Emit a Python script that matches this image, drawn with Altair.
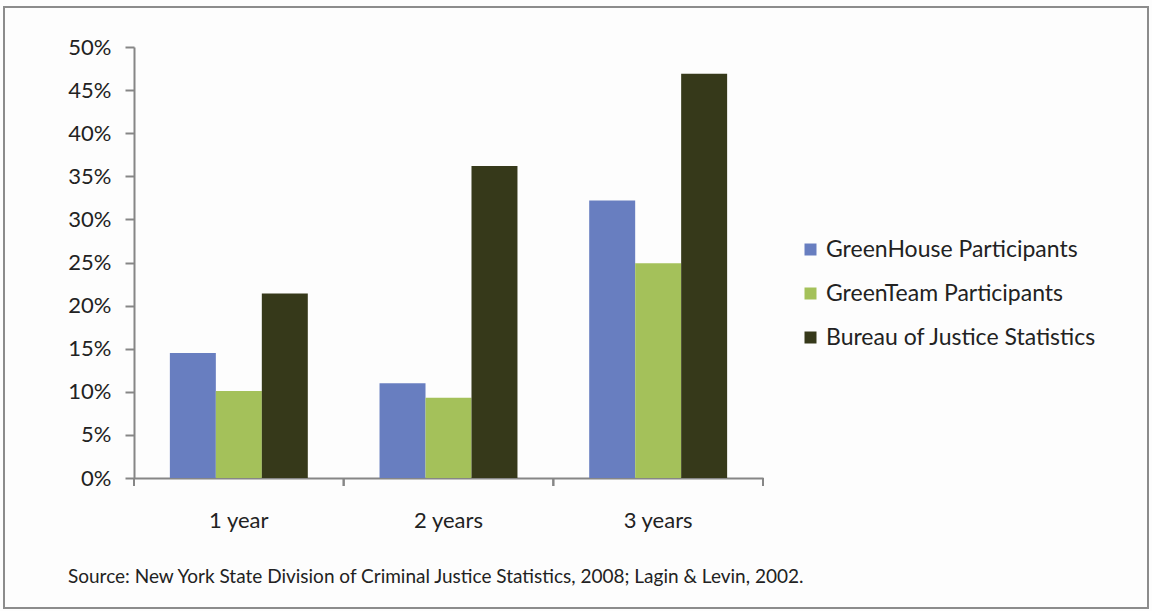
import altair as alt
import pandas as pd

categories = ["1 year", "2 years", "3 years"]
series = ["GreenHouse Participants", "GreenTeam Participants", "Bureau of Justice Statistics"]
greenhouse = [0.145, 0.110, 0.322]
greenteam = [0.101, 0.093, 0.249]
bureau = [0.214, 0.362, 0.469]
colors = ["#687EC0", "#A4C15A", "#36391A"]
y_ticks = [0, 0.05, 0.10, 0.15, 0.20, 0.25, 0.30, 0.35, 0.40, 0.45, 0.50]
source_note = ["Source: New York State Division of Criminal Justice Statistics, 2008; Lagin & Levin, 2002."]

rows = []
for i, c in enumerate(categories):
    for s, vals in zip(series, [greenhouse, greenteam, bureau]):
        rows.append({"cat": c, "series": s, "value": vals[i]})
df = pd.DataFrame(rows)
cat_df = pd.DataFrame({"cat": categories})

W, H = 629, 431
AX = "#868686"
FONT = "Lato"
TXT = "#222222"

xscale = alt.Scale(domain=categories, paddingInner=0, paddingOuter=0)

bars = alt.Chart(df).mark_bar(stroke=None).encode(
    x=alt.X("cat:N", scale=xscale, sort=categories,
            axis=alt.Axis(title=None, labelAngle=0, ticks=False, domainColor=AX,
                          domainWidth=2, labelFont=FONT, labelFontSize=22,
                          labelColor=TXT, labelPadding=32)),
    xOffset=alt.XOffset("series:N", sort=series,
                        scale=alt.Scale(domain=series, paddingInner=0, paddingOuter=0.78)),
    y=alt.Y("value:Q", scale=alt.Scale(domain=[0, 0.5], nice=False),
            axis=alt.Axis(title=None, values=y_ticks, format=".0%", grid=False,
                          domainColor=AX, domainWidth=2, tickColor=AX, tickWidth=2,
                          tickSize=9, labelPadding=14, labelFont=FONT,
                          labelFontSize=22, labelColor=TXT)),
    color=alt.Color("series:N", sort=series,
                    scale=alt.Scale(domain=series, range=colors),
                    legend=alt.Legend(orient="none", legendX=665, legendY=191, title=None,
                                      symbolType="square", symbolSize=144,
                                      symbolStrokeWidth=0, labelFont=FONT,
                                      labelFontSize=23, labelColor=TXT,
                                      labelOffset=4, rowPadding=20, labelLimit=400)),
)

tick_start = alt.Chart(cat_df).mark_rule(color=AX, strokeWidth=2).encode(
    x=alt.X("cat:N", scale=xscale, sort=categories, bandPosition=0),
    y=alt.value(H), y2=alt.value(H + 8),
)
tick_end = alt.Chart(cat_df).mark_rule(color=AX, strokeWidth=2).encode(
    x=alt.X("cat:N", scale=xscale, sort=categories, bandPosition=1),
    y=alt.value(H), y2=alt.value(H + 8),
)

note = alt.Chart(pd.DataFrame({"t": source_note})).mark_text(
    align="left", baseline="middle", font=FONT, fontSize=19, color=TXT
).encode(text="t:N", x=alt.value(-66), y=alt.value(530))

frame = alt.Chart(cat_df.head(1)).mark_rect(fill=None, stroke="#8C8C8C", strokeWidth=2).encode(
    x=alt.value(-130), x2=alt.value(1014), y=alt.value(-40), y2=alt.value(561)
)

chart = alt.layer(frame, bars, tick_start, tick_end, note).properties(
    width=W, height=H,
    autosize=alt.AutoSizeParams(type="none"),
    padding={"left": 134, "top": 47, "right": 389, "bottom": 133},
    background="#FDFDFD",
).configure_view(stroke=None)

chart.save("out.html", embed_options={"renderer": "svg", "actions": False})
